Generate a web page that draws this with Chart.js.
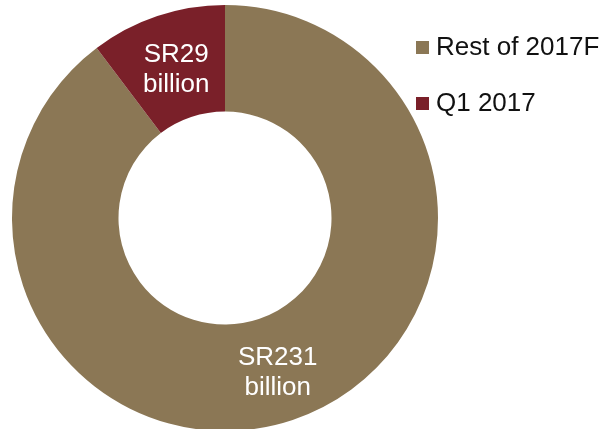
<!DOCTYPE html>
<html>
<head>
<meta charset="utf-8">
<script src="https://cdn.jsdelivr.net/npm/chart.js@4.4.1/dist/chart.umd.min.js"></script>
<style>
  html, body { margin: 0; padding: 0; background: #fff; overflow: hidden; }
  #wrap { position: relative; width: 609px; height: 429px; }
  #legend { position: absolute; left: 416px; top: 31px; font-family: "Liberation Sans", Arial, sans-serif; font-size: 26px; color: #111; }
  .item { display: flex; align-items: center; height: 30px; margin-bottom: 26px; }
  .box { width: 13px; height: 13px; margin-right: 7px; margin-top: 2px; }
</style>
</head>
<body>
<div id="wrap">
  <canvas id="donut" width="609" height="429"></canvas>
  <div id="legend"></div>
</div>
<script>
const labels = ['Rest of 2017F', 'Q1 2017'];
// slice sizes as drawn (Q1 slice is about 37 degrees)
const values = [231, 26.5];
const sliceLabels = [['SR231', 'billion'], ['SR29', 'billion']];
const colors = ['#8B7755', '#7A2029'];

// legend, same order as the data
const legend = document.getElementById('legend');
labels.forEach((name, i) => {
  const row = document.createElement('div');
  row.className = 'item';
  row.innerHTML = '<span class="box" style="background:' + colors[i] + '"></span><span>' + name + '</span>';
  legend.appendChild(row);
});

// white labels in the middle of each ring slice
const sliceText = {
  id: 'sliceText',
  afterDatasetsDraw(chart) {
    const ctx = chart.ctx;
    const meta = chart.getDatasetMeta(0);
    ctx.save();
    ctx.fillStyle = '#fff';
    ctx.font = '26px "Liberation Sans", Arial, sans-serif';
    ctx.textAlign = 'center';
    ctx.textBaseline = 'middle';
    meta.data.forEach((arc, i) => {
      const p = arc.tooltipPosition();
      const lines = sliceLabels[i];
      lines.forEach((t, j) => {
        ctx.fillText(t, p.x + 2, p.y + 3 + (j - (lines.length - 1) / 2) * 30);
      });
    });
    ctx.restore();
  }
};

new Chart(document.getElementById('donut'), {
  type: 'doughnut',
  data: {
    labels: labels,
    datasets: [{
      data: values,
      backgroundColor: colors,
      borderWidth: 0,
      hoverOffset: 0
    }]
  },
  options: {
    responsive: false,
    animation: false,
    radius: 213,
    cutout: '50%',
    layout: { padding: { left: 0, right: 159, top: 7, bottom: 0 } },
    plugins: {
      legend: { display: false },
      tooltip: { enabled: false }
    }
  },
  plugins: [sliceText]
});
</script>
</body>
</html>
